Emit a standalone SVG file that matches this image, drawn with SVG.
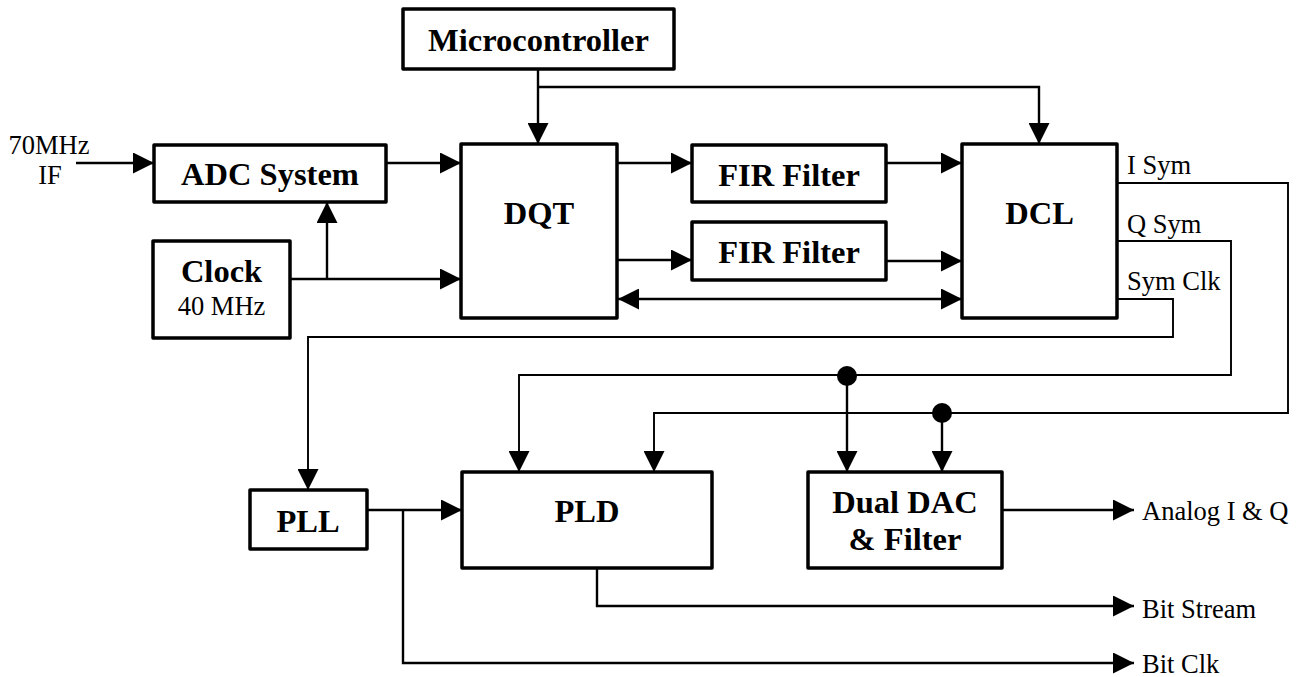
<svg xmlns="http://www.w3.org/2000/svg" width="1297" height="677" viewBox="0 0 1297 677">
<style>
.box{fill:#fff;stroke:#000;stroke-width:3.5;stroke-linejoin:round}
.b{font-family:"Liberation Serif",serif;font-weight:bold;font-size:32.5px;text-anchor:middle;fill:#000}
.r{font-family:"Liberation Serif",serif;font-size:26.5px;fill:#000}
.w{fill:none;stroke:#000;stroke-width:2.4}
.t{fill:none;stroke:#000;stroke-width:1.9}
.arr{marker-end:url(#ah)}
</style>
<defs>
<marker id="ah" viewBox="0 0 21 21" markerWidth="21" markerHeight="21" refX="21" refY="10.5" orient="auto-start-reverse" markerUnits="userSpaceOnUse">
<path d="M0,0 L21,10.5 L0,21 z" fill="#000"/>
</marker>
</defs>
<rect width="1297" height="677" fill="#fff"/>
<g id="connectors">
<line class="w arr" x1="76" y1="163" x2="154" y2="163"/>
<line class="w arr" x1="386" y1="163" x2="461" y2="163"/>
<line class="w arr" x1="290" y1="279" x2="461" y2="279"/>
<line class="w arr" x1="327" y1="279" x2="327" y2="202"/>
<line class="w arr" x1="538" y1="69" x2="538" y2="144"/>
<polyline class="w arr" points="538,87 1039,87 1039,144"/>
<line class="w arr" x1="617" y1="163" x2="692" y2="163"/>
<line class="w arr" x1="617" y1="260" x2="692" y2="260"/>
<line class="w arr" x1="886" y1="163" x2="962" y2="163"/>
<line class="w arr" x1="886" y1="261" x2="962" y2="261"/>
<line class="w arr" x1="618" y1="299" x2="962" y2="299" marker-start="url(#ah)"/>
<polyline class="t arr" points="1117,183 1288,183 1288,413 654,413 654,472"/>
<polyline class="t arr" points="1117,241 1231,241 1231,375 519,375 519,472"/>
<polyline class="t arr" points="1117,299 1173,299 1173,337 308,337 308,490"/>
<line class="w arr" x1="847" y1="376" x2="847" y2="472"/>
<line class="w arr" x1="942" y1="413" x2="942" y2="472"/>
<circle cx="847" cy="376" r="10" fill="#000"/>
<circle cx="942" cy="413" r="10" fill="#000"/>
<line class="w arr" x1="367" y1="510" x2="462" y2="510"/>
<polyline class="w arr" points="403,510 403,663 1134,663"/>
<polyline class="w arr" points="597,568 597,606 1134,606"/>
<line class="w arr" x1="1002" y1="510" x2="1134" y2="510"/>
</g>
<g id="labels">
<text class="r" x="49" y="154" text-anchor="middle">70MHz</text>
<text class="r" x="50" y="184" text-anchor="middle">IF</text>
<text class="r" x="1127" y="174">I Sym</text>
<text class="r" x="1127" y="233">Q Sym</text>
<text class="r" x="1127" y="290">Sym Clk</text>
<text class="r" x="1142" y="520">Analog I &amp; Q</text>
<text class="r" x="1142" y="618">Bit Stream</text>
<text class="r" x="1142" y="673">Bit Clk</text>
</g>
<g id="microcontroller">
<rect class="box" x="403" y="9" width="271" height="60"/>
<text class="b" x="538.5" y="51">Microcontroller</text>
</g>
<g id="adc">
<rect class="box" x="154" y="145" width="232" height="57"/>
<text class="b" x="270" y="185">ADC System</text>
</g>
<g id="clock">
<rect class="box" x="153" y="241" width="137" height="97"/>
<text class="b" x="221.5" y="282">Clock</text>
<text class="r" x="221.5" y="315" text-anchor="middle">40 MHz</text>
</g>
<g id="dqt">
<rect class="box" x="461" y="144" width="156" height="174"/>
<text class="b" x="539" y="224">DQT</text>
</g>
<g id="fir1">
<rect class="box" x="692" y="145" width="194" height="57"/>
<text class="b" x="789" y="186">FIR Filter</text>
</g>
<g id="fir2">
<rect class="box" x="692" y="222" width="194" height="58"/>
<text class="b" x="789" y="263">FIR Filter</text>
</g>
<g id="dcl">
<rect class="box" x="962" y="144" width="155" height="174"/>
<text class="b" x="1039.5" y="224">DCL</text>
</g>
<g id="pll">
<rect class="box" x="250" y="490" width="117" height="59"/>
<text class="b" x="308" y="532">PLL</text>
</g>
<g id="pld">
<rect class="box" x="462" y="472" width="250" height="96"/>
<text class="b" x="587" y="522">PLD</text>
</g>
<g id="dac">
<rect class="box" x="808" y="472" width="194" height="96"/>
<text class="b" x="905" y="513">Dual DAC</text>
<text class="b" x="905" y="550">&amp; Filter</text>
</g>
</svg>
